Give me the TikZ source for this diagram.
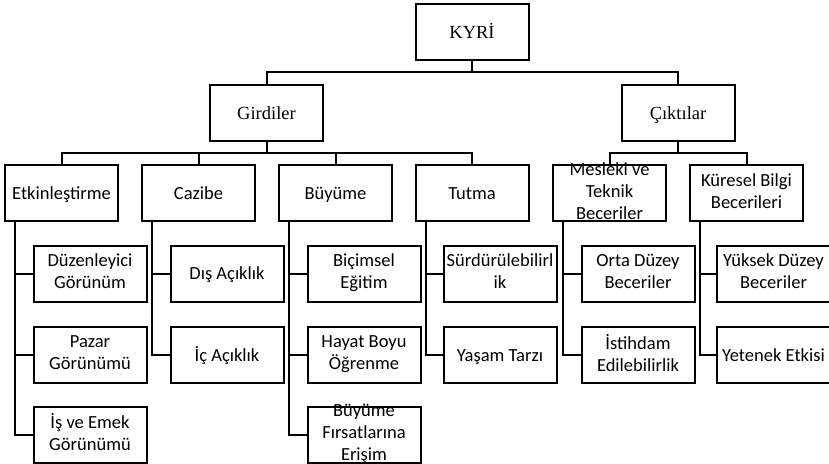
\documentclass[tikz,border=0pt]{standalone}
\usepackage{fontspec}
\setmainfont{Carlito}
\newfontfamily\tnr{Liberation Serif}
\newcommand{\dikme}{\rule[-4.6pt]{0pt}{22pt}}
\begin{document}
\begin{tikzpicture}[x=1pt,y=-1pt,line width=2pt,
    kutu/.style={draw,minimum width=113pt,minimum height=56pt,inner sep=1pt,align=center,
      font=\fontsize{18.5}{22}\selectfont,
      execute at begin node=\dikme,execute at end node=\dikme},
    ustkutu/.style={kutu,font=\tnr\fontsize{18.5}{22}\selectfont},
    tasan/.style={inner ysep=-6pt}]
                \useasboundingbox (0,0) rectangle (829,463) ;
                \clip (0,0) rectangle (829,463) ;
                \node [ustkutu] (kyri) at (472,32) {KYRİ} ;
                \node [ustkutu] (girdiler) at (266.5,113) {Girdiler} ;
                \node [ustkutu] (ciktilar) at (678,113) {Çıktılar} ;
                \node [kutu] (etkin) at (61.5,193) {Etkinleştirme} ;
                \node [kutu] (cazibe) at (198.5,193) {Cazibe} ;
                \node [kutu] (buyume) at (335.5,193) {Büyüme} ;
                \node [kutu] (tutma) at (472,193) {Tutma} ;
                \node [kutu,tasan] (mesleki) at (609.5,193) {Mesleki ve\\Teknik\\Beceriler} ;
                \node [kutu] (kuresel) at (746.5,193) {Küresel Bilgi\\Becerileri} ;
                \node [kutu] (duzen) at (90,273.5) {Düzenleyici\\Görünüm} ;
                \node [kutu] (pazar) at (90,355) {Pazar\\Görünümü} ;
                \node [kutu] (isemek) at (90,434.5) {İş ve Emek\\Görünümü} ;
                \node [kutu] (dis) at (227,273.5) {Dış Açıklık} ;
                \node [kutu] (ic) at (227,355) {İç Açıklık} ;
                \node [kutu] (bicimsel) at (364,273.5) {Biçimsel\\Eğitim} ;
                \node [kutu] (hayat) at (364,355) {Hayat Boyu\\Öğrenme} ;
                \node [kutu,tasan] (firsat) at (364,434.5) {Büyüme\\Fırsatlarına\\Erişim} ;
                \node [kutu] (surdur) at (500,273.5) {Sürdürülebilirl\\ik} ;
                \node [kutu] (yasam) at (500,355) {Yaşam Tarzı} ;
                \node [kutu] (orta) at (638,273.5) {Orta Düzey\\Beceriler} ;
                \node [kutu] (istihdam) at (638,355) {İstihdam\\Edilebilirlik} ;
                \node [kutu] (yuksek) at (773.5,273.5) {Yüksek Düzey\\Beceriler} ;
                \node [kutu] (yetenek) at (773.5,355) {Yetenek Etkisi} ;
                \coordinate (hat1) at (472,72) ;
                \coordinate (hat2) at (266.5,153) ;
                \coordinate (hat3) at (678,153) ;
                \draw (kyri.south) -- (hat1) ;
                \draw (girdiler.north) |- (hat1) -| (ciktilar.north) ;
                \draw (girdiler.south) -- (hat2) ;
                \draw (etkin.north) |- (hat2) -| (tutma.north) ;
                \draw (cazibe.north) |- (hat2) ;
                \draw (buyume.north) |- (hat2) ;
                \draw (ciktilar.south) -- (hat3) ;
                \draw (mesleki.north) |- (hat3) -| (kuresel.north) ;
                \foreach \ust/\alt in {etkin/duzen,etkin/pazar,etkin/isemek,cazibe/dis,cazibe/ic,
                    buyume/bicimsel,buyume/hayat,buyume/firsat,tutma/surdur,tutma/yasam,
                    mesleki/orta,mesleki/istihdam,kuresel/yuksek,kuresel/yetenek}
                  \draw (\alt.west) -| ([xshift=11pt]\ust.south west) ;
            \end{tikzpicture}
\end{document}
